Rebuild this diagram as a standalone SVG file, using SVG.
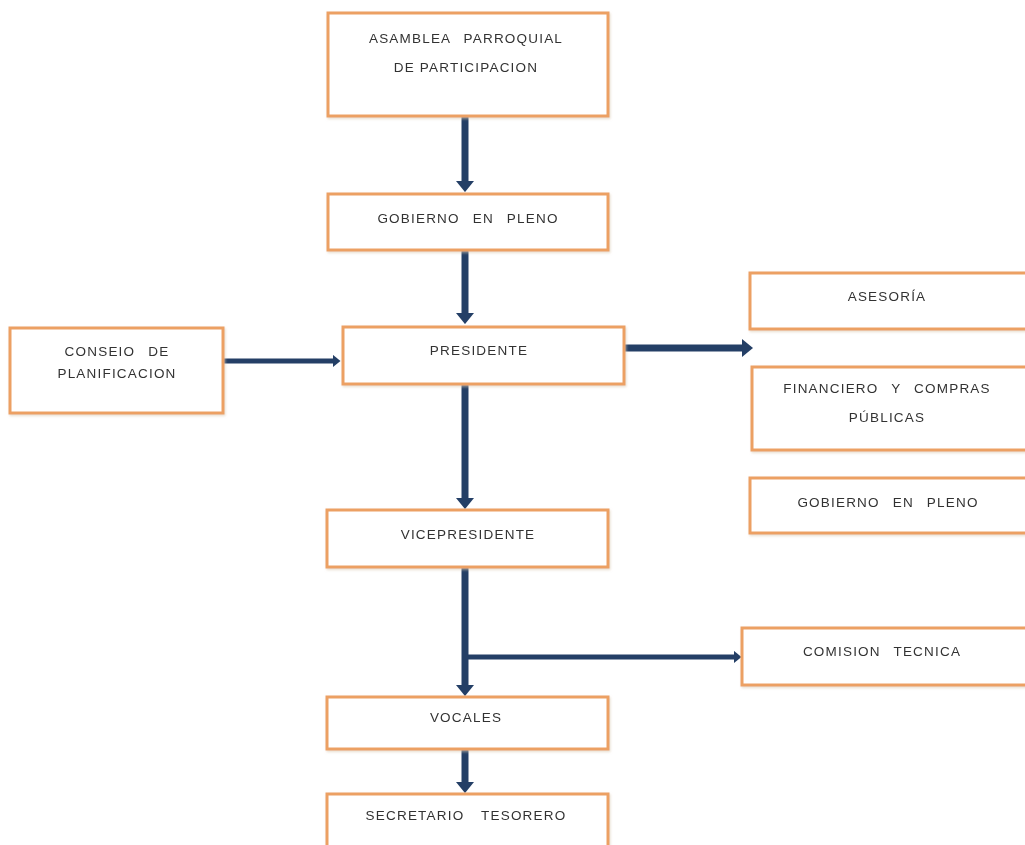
<svg xmlns="http://www.w3.org/2000/svg" width="1025" height="845" viewBox="0 0 1025 845">
<style>
.box{fill:#ffffff;stroke:#ECA064;stroke-width:3}
.t{font-family:"Liberation Sans",Arial,sans-serif;font-size:13.5px;fill:#333333;text-anchor:middle;letter-spacing:1.2px;word-spacing:8px}
.c{stroke:#243F66;stroke-width:7;fill:none}
.cs{stroke:#243F66;stroke-width:5;fill:none}
</style>
<defs>
<marker id="ah" markerWidth="1.6" markerHeight="2.6" refX="0.3" refY="1.3" orient="auto" markerUnits="strokeWidth">
<path d="M0,0 L1.6,1.3 L0,2.6 Z" fill="#243F66"/>
</marker>
<filter id="sh" x="-5%" y="-5%" width="110%" height="115%">
<feDropShadow dx="1" dy="1.5" stdDeviation="1.2" flood-color="#d9c9b0" flood-opacity="0.6"/>
</filter>
</defs>
<rect width="1025" height="845" fill="#ffffff"/>
<g id="connectors">
<line class="c" x1="465" y1="116" x2="465" y2="183" marker-end="url(#ah)"/>
<line class="c" x1="465" y1="250" x2="465" y2="315" marker-end="url(#ah)"/>
<line class="cs" x1="213" y1="361" x2="334" y2="361" marker-end="url(#ah)"/>
<line class="c" x1="623" y1="348" x2="744" y2="348" marker-end="url(#ah)"/>
<line class="c" x1="465" y1="384" x2="465" y2="500" marker-end="url(#ah)"/>
<line class="c" x1="465" y1="567" x2="465" y2="687" marker-end="url(#ah)"/>
<line class="cs" x1="465" y1="657" x2="735" y2="657" marker-end="url(#ah)"/>
<line class="c" x1="465" y1="749" x2="465" y2="784" marker-end="url(#ah)"/>
</g>
<g id="asamblea" filter="url(#sh)">
<rect class="box" x="328" y="13" width="280" height="103"/>
<text class="t" x="466" y="43">ASAMBLEA PARROQUIAL</text>
<text class="t" x="466" y="72" style="word-spacing:0">DE PARTICIPACION</text>
</g>
<g id="gobierno" filter="url(#sh)">
<rect class="box" x="328" y="194" width="280" height="56"/>
<text class="t" x="468" y="223">GOBIERNO EN PLENO</text>
</g>
<g id="presidente" filter="url(#sh)">
<rect class="box" x="343" y="327" width="281" height="57"/>
<text class="t" x="479" y="355">PRESIDENTE</text>
</g>
<g id="consejo" filter="url(#sh)">
<rect class="box" x="10" y="328" width="213" height="85"/>
<text class="t" x="117" y="356">CONSEIO DE</text>
<text class="t" x="117" y="378">PLANIFICACION</text>
</g>
<g id="asesoria" filter="url(#sh)">
<rect class="box" x="750" y="273" width="285" height="56"/>
<text class="t" x="887" y="301">ASESORÍA</text>
</g>
<g id="financiero" filter="url(#sh)">
<rect class="box" x="752" y="367" width="283" height="83"/>
<text class="t" x="887" y="393">FINANCIERO Y COMPRAS</text>
<text class="t" x="887" y="422">PÚBLICAS</text>
</g>
<g id="gobierno2" filter="url(#sh)">
<rect class="box" x="750" y="478" width="285" height="55"/>
<text class="t" x="888" y="507">GOBIERNO EN PLENO</text>
</g>
<g id="vicepresidente" filter="url(#sh)">
<rect class="box" x="327" y="510" width="281" height="57"/>
<text class="t" x="468" y="539">VICEPRESIDENTE</text>
</g>
<g id="comision" filter="url(#sh)">
<rect class="box" x="742" y="628" width="293" height="57"/>
<text class="t" x="882" y="656">COMISION TECNICA</text>
</g>
<g id="vocales" filter="url(#sh)">
<rect class="box" x="327" y="697" width="281" height="52"/>
<text class="t" x="466" y="722">VOCALES</text>
</g>
<g id="secretario" filter="url(#sh)">
<rect class="box" x="327" y="794" width="281" height="60"/>
<text class="t" x="466" y="820" style="word-spacing:12px">SECRETARIO TESORERO</text>
</g>
</svg>
